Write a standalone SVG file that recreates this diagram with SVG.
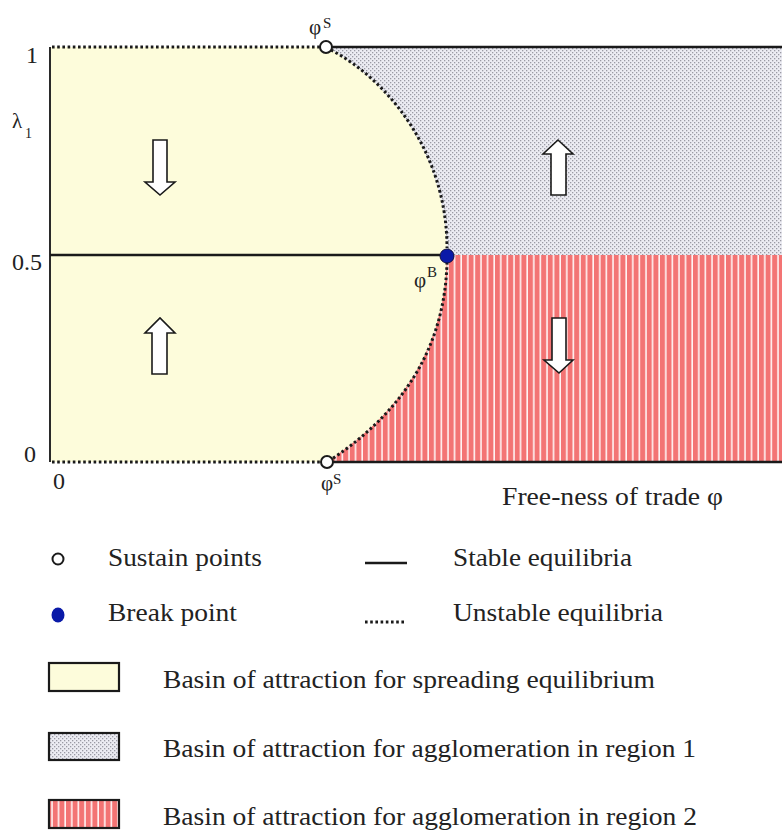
<svg xmlns="http://www.w3.org/2000/svg" width="782" height="831" viewBox="0 0 782 831">
  <style>
    text { font-family: "Liberation Serif", "Times New Roman", serif; fill: #222; }
    .lbl { font-size: 26px; }
    .ax { font-size: 24px; }
    .phi { font-size: 21px; }
    .sup { font-size: 15px; }
    .stable { stroke: #1a1a1a; stroke-width: 2.6; fill: none; }
    .unstable { stroke: #1a1a1a; stroke-width: 3; fill: none; stroke-dasharray: 2.6 2.6; }
    .arrow { fill: #ffffff; stroke: #1a1a1a; stroke-width: 1.6; stroke-linejoin: miter; }
    .box { stroke: #1a1a1a; stroke-width: 2.2; }
  </style>
  <defs>
    <pattern id="dots" width="4" height="4" patternUnits="userSpaceOnUse">
      <rect width="4" height="4" fill="#ececf3"/>
      <rect x="0" y="0" width="1.3" height="1.3" fill="#9a9aa4"/>
      <rect x="2" y="2" width="1.3" height="1.3" fill="#9a9aa4"/>
    </pattern>
    <pattern id="stripes" width="6.6" height="20" patternUnits="userSpaceOnUse">
      <rect width="6.6" height="20" fill="#f37474"/>
      <rect x="5" y="0" width="1.6" height="20" fill="#fff4f4"/>
    </pattern>
  </defs>
  <rect width="782" height="831" fill="#ffffff"/>

  <g id="regions">
    <path id="basin-spreading" d="M50,47 L326,47 C385,78 447,150 447,255 C445,345 405,410 327,462 L50,462 Z" fill="#fdfcdb"/>
    <path id="basin-region1" d="M326,47 L782,47 L782,255 L447,255 C447,150 385,78 326,47 Z" fill="url(#dots)"/>
    <path id="basin-region2" d="M447,255 L782,255 L782,462 L327,462 C405,410 445,345 447,255 Z" fill="url(#stripes)"/>
  </g>

  <g id="connectors">
    <line x1="50" y1="47" x2="50" y2="462" stroke="#2a2a2a" stroke-width="2"/>
    <line class="unstable" x1="52" y1="47" x2="320" y2="47"/>
    <line class="stable" x1="332" y1="47" x2="782" y2="47"/>
    <line class="stable" x1="50" y1="255" x2="440" y2="255"/>
    <line class="unstable" x1="52" y1="462" x2="321" y2="462"/>
    <line class="stable" x1="333" y1="462" x2="782" y2="462"/>
    <path class="unstable" d="M331,50 C385,78 447,150 447,248"/>
    <path class="unstable" d="M447,262 C445,345 405,410 332,459"/>
  </g>

  <g id="arrows">
    <path id="arrow-spread-down" class="arrow" d="M153,140 L167,140 L167,182 L175,182 L160,195 L145,182 L153,182 Z"/>
    <path id="arrow-spread-up" class="arrow" d="M152,374 L167,374 L167,333 L175,333 L160,318 L145,333 L152,333 Z"/>
    <path id="arrow-region1-up" class="arrow" d="M551,195 L566,195 L566,154 L573,154 L558,140 L543,154 L551,154 Z"/>
    <path id="arrow-region2-down" class="arrow" d="M552,318 L566,318 L566,360 L573,360 L559,373 L544,360 L552,360 Z"/>
  </g>

  <g id="sustain-top">
    <circle cx="326" cy="47" r="6" fill="#ffffff" stroke="#1a1a1a" stroke-width="2"/>
    <text class="phi" x="309" y="34">φ</text>
    <text class="sup" x="323" y="28">S</text>
  </g>
  <g id="sustain-bottom">
    <circle cx="327" cy="462" r="6" fill="#ffffff" stroke="#1a1a1a" stroke-width="2"/>
    <text class="phi" x="321" y="490">φ</text>
    <text class="sup" x="333" y="484">S</text>
  </g>
  <g id="break-point">
    <circle cx="447" cy="256" r="7" fill="#0a1aa8" stroke="#101040" stroke-width="1"/>
    <text class="phi" x="414" y="287">φ</text>
    <text class="sup" x="427" y="277">B</text>
  </g>

  <g id="axis-labels">
    <text class="ax" x="26" y="63">1</text>
    <text class="phi" x="12" y="128">λ</text>
    <text style="font-size:14px" x="25" y="138">1</text>
    <text class="ax" x="12" y="270">0.5</text>
    <text class="ax" x="24" y="462">0</text>
    <text class="ax" x="53" y="489">0</text>
    <text class="lbl" x="502" y="505" textLength="221" lengthAdjust="spacingAndGlyphs">Free-ness of trade φ</text>
  </g>

  <g id="legend-sustain">
    <circle cx="58" cy="559" r="5.5" fill="#ffffff" stroke="#1a1a1a" stroke-width="2"/>
    <text class="lbl" x="108" y="566" textLength="154" lengthAdjust="spacingAndGlyphs">Sustain points</text>
  </g>
  <g id="legend-break">
    <ellipse cx="58" cy="615" rx="6.5" ry="7.5" fill="#0a1aa8"/>
    <text class="lbl" x="108" y="621" textLength="129" lengthAdjust="spacingAndGlyphs">Break point</text>
  </g>
  <g id="legend-stable">
    <line class="stable" x1="365" y1="563" x2="407" y2="563" stroke-width="3"/>
    <text class="lbl" x="453" y="566" textLength="179" lengthAdjust="spacingAndGlyphs">Stable equilibria</text>
  </g>
  <g id="legend-unstable">
    <line class="unstable" x1="365" y1="622" x2="404" y2="622"/>
    <text class="lbl" x="453" y="621" textLength="210" lengthAdjust="spacingAndGlyphs">Unstable equilibria</text>
  </g>
  <g id="legend-spreading">
    <rect class="box" x="49" y="663" width="70" height="28" fill="#fdfcdb"/>
    <text class="lbl" x="163" y="688" textLength="492" lengthAdjust="spacingAndGlyphs">Basin of attraction for spreading equilibrium</text>
  </g>
  <g id="legend-region1">
    <rect class="box" x="49" y="733" width="70" height="27" fill="url(#dots)"/>
    <text class="lbl" x="163" y="757" textLength="533" lengthAdjust="spacingAndGlyphs">Basin of attraction for agglomeration in region 1</text>
  </g>
  <g id="legend-region2">
    <rect class="box" x="49" y="800" width="70" height="28" fill="url(#stripes)"/>
    <text class="lbl" x="163" y="825" textLength="534" lengthAdjust="spacingAndGlyphs">Basin of attraction for agglomeration in region 2</text>
  </g>
</svg>
